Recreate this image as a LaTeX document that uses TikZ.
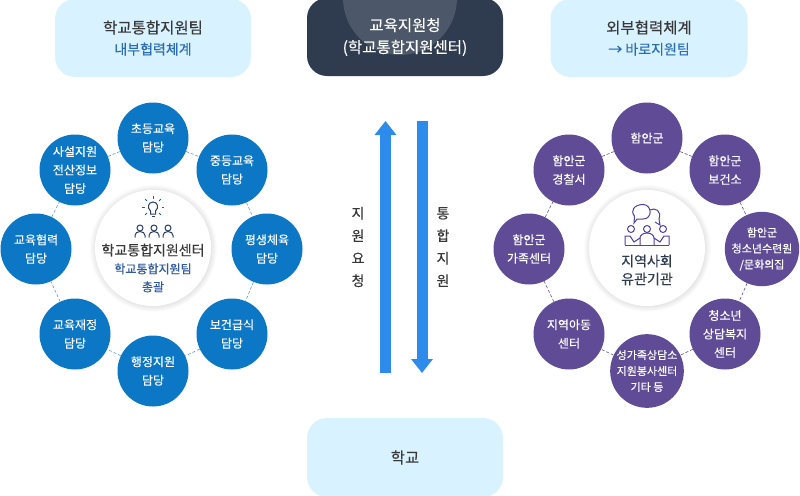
\documentclass[tikz,border=0pt]{standalone}
\usepackage{fontspec}
\setmainfont[FakeBold=0.3]{Noto Sans CJK KR}
\usetikzlibrary{%
  arrows.meta,%
  shadows%
}
\definecolor{ringblue}{HTML}{0B77C5}
\definecolor{ringpurple}{HTML}{5F4B96}
\definecolor{boxblue}{HTML}{D9F2FF}
\definecolor{boxdark}{HTML}{2F3B4E}
\definecolor{boxlight}{HTML}{4C5769}
\definecolor{arrowblue}{HTML}{2D8CEB}
\definecolor{textblue}{HTML}{2A6DB5}
\definecolor{textgray}{HTML}{383838}
\definecolor{textnavy}{HTML}{2F5A9E}
\definecolor{icondark}{HTML}{2B3F66}
\tikzset{
  topbox/.style={rounded corners=20pt,minimum height=78pt,inner sep=0pt,align=center,
    text=textgray,font=\fontsize{15.5}{22}\selectfont},
  ringnode/.style={circle,minimum size=71pt,inner sep=0pt,align=center,text=white,
    font=\fontsize{12}{18.5}\selectfont},
  blueball/.style={ringnode,fill=ringblue},
  purpleball/.style={ringnode,fill=ringpurple},
  smallball/.style={purpleball,font=\fontsize{11}{16}\selectfont},
  midball/.style={circle,fill=white,minimum size=116pt,inner sep=0pt,
    circular drop shadow={shadow xshift=0pt,shadow yshift=0pt,shadow scale=1.1,opacity=.3}},
  blueline/.style={dash pattern=on 3pt off 2pt,ringblue!70,line width=0.6pt},
  purpleline/.style={dash pattern=on 3pt off 2pt,ringpurple,line width=0.6pt},
  bigarrow/.style={arrowblue,line width=11pt,-{Triangle[width=21pt,length=14pt]}},
  sidetext/.style={align=center,text=textgray,font=\fontsize{14}{22.5}\selectfont}
}

\begin{document}
\begin{tikzpicture}[x=1pt,y=-1pt]
    \useasboundingbox (0,0) rectangle (800,495);
    % top and bottom boxes
    \node[topbox,fill=boxblue,minimum width=196pt] (teambox) at (153,38)
      {학교통합지원팀\\[-1pt]{\fontsize{14}{20}\selectfont\color{textblue}내부협력체계}};
    \node[topbox,fill=boxdark,minimum width=196pt,text=white,
      path picture={\fill[boxlight] (path picture bounding box.north) ++(-5,0) circle (57);}] (officebox) at (405,37)
      {교육지원청\\(학교통합지원센터)};
    \node[topbox,fill=boxblue,minimum width=197pt] (outerbox) at (649,38)
      {외부협력체계\\[-1pt]{\fontsize{14}{20}\selectfont\color{textblue}→ 바로지원팀}};
    \node[topbox,fill=boxblue,minimum width=196pt,minimum height=79pt] (schoolbox) at (405,457.5) {학교};
    % arrows in the middle
    \coordinate (upfrom) at (385.5,373);
    \coordinate (upto) at (385.5,121);
    \coordinate (downfrom) at (422,121);
    \coordinate (downto) at (422,373);
    \draw[bigarrow] (upfrom) -- (upto);
    \draw[bigarrow] (downfrom) -- (downto);
    \node[sidetext] (asktext) at (358,247) {지\\원\\요\\청};
    \node[sidetext] (helptext) at (443,247) {통\\합\\지\\원};
    % left ring
    \node[midball] (leftmid) at (153,248) {};
    \node[blueball] (la) at (153,138) {초등교육\\담당};
    \node[blueball] (lb) at (232,170) {중등교육\\담당};
    \node[blueball] (lc) at (267,249) {평생체육\\담당};
    \node[blueball] (ld) at (232,334) {보건급식\\담당};
    \node[blueball] (le) at (153,371) {행정지원\\담당};
    \node[blueball] (lf) at (75,334) {교육재정\\담당};
    \node[blueball] (lg) at (36,249) {교육협력\\담당};
    \node[blueball] (lh) at (75,170) {사설지원\\전산정보\\담당};
    \foreach \from/\to in {la/lb,lb/lc,lc/ld,ld/le,le/lf,lf/lg,lg/lh,lh/la}
      \draw[blueline] (\from) -- (\to);
    \node[align=center,text=textnavy,font=\fontsize{12}{18}\selectfont] (lefttext) at (153,268)
      {{\fontsize{14}{17}\selectfont\color{textgray}학교통합지원센터}\\학교통합지원팀\\총괄};
    % bulb
    \begin{scope}[icondark,line width=1pt]
      \draw (150.5,214) -- (150.5,211) .. controls (147,208) and (148,202) .. (153,202)
        .. controls (158,202) and (159,208) .. (155.5,211) -- (155.5,214) -- cycle;
      \draw (151.5,216) -- (154.5,216);
      \foreach \ang in {0,45,90,135,180,225,315}
        \draw[ringblue!60!icondark] (153,207) ++(-\ang:8.5) -- ++(-\ang:2.5);
      \foreach \px in {140,154,168} {
        \draw (\px,228) circle (3);
        \draw (\px-5,237.5) -- (\px-5,235.5) arc (180:360:5 and 4) -- (\px+5,237.5);
      }
    \end{scope}
    % right ring
    \node[midball] (rightmid) at (647,248) {};
    \node[purpleball] (ra) at (647,138) {함안군};
    \node[purpleball] (rb) at (725,170) {함안군\\보건소};
    \node[smallball] (rc) at (762,249) {함안군\\청소년수련원\\/문화의집};
    \node[purpleball] (rd) at (725,334) {청소년\\상담복지\\센터};
    \node[smallball] (re) at (647,371) {성가족상담소\\지원봉사센터\\기타 등};
    \node[purpleball] (rf) at (569,334) {지역아동\\센터};
    \node[purpleball] (rg) at (529,249) {함안군\\가족센터};
    \node[purpleball] (rh) at (569,170) {함안군\\경찰서};
    \foreach \from/\to in {ra/rb,rb/rc,rc/rd,rd/re,re/rf,rf/rg,rg/rh,rh/ra}
      \draw[purpleline] (\from) -- (\to);
    \node[align=center,text=boxdark,font=\fontsize{14}{18}\selectfont] (righttext) at (647,270)
      {지역사회\\유관기관};
    % people with speech bubbles
    \begin{scope}[ringpurple!85!blue,line width=1pt]
      \draw (650,210) .. controls (655,207) and (662,211) .. (659,219) -- (660,225) -- (655,222);
      \draw (643,204.5) .. controls (652,204.5) and (653,219) .. (643,219)
        -- (637,219) -- (634,223) -- (634.5,216) .. controls (630,211) and (634,204.5) .. (643,204.5) -- cycle;
      \foreach \px in {631,647,663}
        \draw (\px,229) circle (3.5);
      \draw (625,245) -- (625,236) -- (630,236) -- (634,242) -- (640,238);
      \draw (669,245) -- (669,236) -- (664,236) -- (660,242) -- (654,238);
      \draw (640,245) -- (640,238) arc (180:360:7 and 5) -- (654,245);
      \draw (625,245) -- (669,245);
    \end{scope}
\end{tikzpicture}
\end{document}
